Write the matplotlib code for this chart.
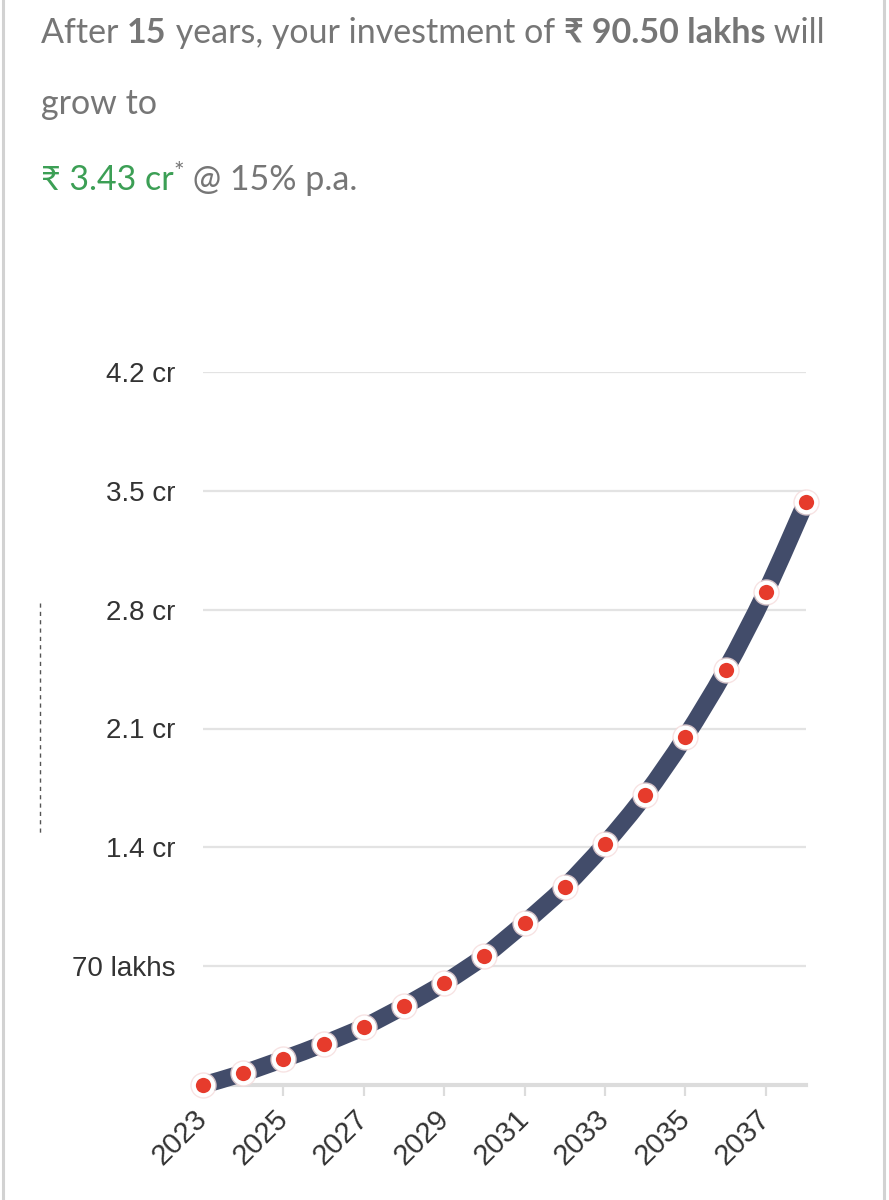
import numpy as np
import matplotlib
matplotlib.use("Agg")
import matplotlib.pyplot as plt
from matplotlib.path import Path
from matplotlib.patches import PathPatch
from matplotlib.lines import Line2D

# yearly corpus values, in crore
years = np.arange(2023, 2039)
values = [0.0, 0.07, 0.153, 0.242, 0.342, 0.465, 0.601, 0.76, 0.955,
          1.167, 1.42, 1.709, 2.051, 2.445, 2.905, 3.435]
ytick_vals = [0.7, 1.4, 2.1, 2.8, 3.5, 4.2]
ytick_labels = ['70 lakhs', '1.4 cr', '2.1 cr', '2.8 cr', '3.5 cr', '4.2 cr']
xtick_years = list(range(2023, 2038, 2))

W, H = 889, 1200
fig = plt.figure(figsize=(W / 100, H / 100), dpi=100)
fig.patch.set_facecolor('white')

HEAD_FONT = ['Lato', 'DejaVu Sans']
AX_FONT = ['Liberation Sans', 'DejaVu Sans']
GREY = '#767676'
GREEN = '#3c9f55'

# card border
for xp in (3, 884):
    fig.add_artist(Line2D([xp / W, xp / W], [0, 1], color='#d2d2d2', lw=2.2))
# dashed marker at left
fig.add_artist(Line2D([40 / W, 40 / W], [1 - 603 / H, 1 - 836 / H],
                      color='#555555', lw=1.0, ls=(0, (3, 3))))

# header text, placed piece by piece
fig.canvas.draw()
renderer = fig.canvas.get_renderer()


def put_line(pieces, x0, y0):
    x = x0
    for s, weight, color, size, dy in pieces:
        t = fig.text(x / W, 1 - (y0 - dy) / H, s, fontsize=size, fontweight=weight,
                     color=color, family=HEAD_FONT, va='baseline', ha='left')
        x += t.get_window_extent(renderer).width


hs = 24.5
put_line([('After ', 'normal', GREY, hs, 0), ('15', 'bold', GREY, hs, 0),
          (' years, your investment of ', 'normal', GREY, hs, 0),
          ('\u20b9 90.50 lakhs', 'bold', GREY, hs, 0), (' will', 'normal', GREY, hs, 0)],
         41, 43)
put_line([('grow to', 'normal', GREY, hs, 0)], 41, 114)
put_line([('\u20b9 3.43 cr', 'normal', GREEN, hs, 0), ('*', 'normal', GREY, 18, 10),
          (' @ 15% p.a.', 'normal', GREY, hs, 0)], 41, 190)

# chart axes
ax = fig.add_axes([203 / W, 1 - 1085 / H, (806 - 203) / W, (1085 - 372) / H])
ax.set_xlim(2023, 2038)
ax.set_ylim(0, 4.2)
for s in ax.spines.values():
    s.set_visible(False)
ax.axhline(0, color='#dcdcdc', lw=3, zorder=1, clip_on=False)
for v in ytick_vals:
    ax.axhline(v, color='#e3e3e3', lw=1.6, zorder=1)

ax.set_yticks(ytick_vals)
ax.set_yticklabels(ytick_labels, family=AX_FONT, fontsize=20, color='#333333')
ax.tick_params(axis='y', length=0, pad=20)
ax.set_xticks(xtick_years)
ax.set_xticklabels([str(y) for y in xtick_years], family=AX_FONT, fontsize=21,
                   color='#333333', rotation=45, ha='right', va='center',
                   rotation_mode='anchor')
ax.tick_params(axis='x', length=8, width=1.6, color='#dcdcdc', pad=13)

# smooth spline through points (catmull-rom -> bezier)
px = np.array(years, dtype=float)
py = np.array(values, dtype=float)
n = len(px)
verts = [(px[0], py[0])]
codes = [Path.MOVETO]
for i in range(n - 1):
    p0 = np.array([px[max(i - 1, 0)], py[max(i - 1, 0)]])
    p1 = np.array([px[i], py[i]])
    p2 = np.array([px[i + 1], py[i + 1]])
    p3 = np.array([px[min(i + 2, n - 1)], py[min(i + 2, n - 1)]])
    c1 = p1 + (p2 - p0) / 6
    c2 = p2 - (p3 - p1) / 6
    verts += [tuple(c1), tuple(c2), tuple(p2)]
    codes += [Path.CURVE4] * 3
ax.add_patch(PathPatch(Path(verts, codes), fill=False, edgecolor='#424c6a',
                       lw=12.5, capstyle='butt', joinstyle='round', zorder=3, clip_on=False))

ax.plot(years, values, ls='none', marker='o', ms=19, mfc='#f6dcdc', mec='none',
        alpha=0.8, zorder=4, clip_on=False)
ax.plot(years, values, ls='none', marker='o', ms=14, mfc='#e63b2c', mec='white',
        mew=3, zorder=5, clip_on=False)

fig.savefig('out.png', dpi=100, facecolor='white')
